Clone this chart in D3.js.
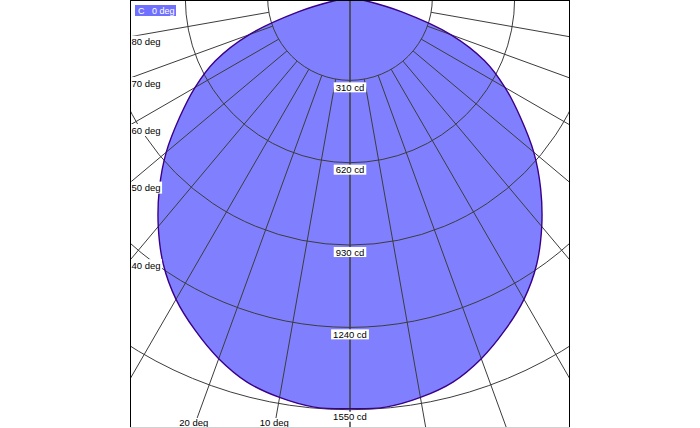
<!DOCTYPE html>
<html>
<head>
<meta charset="utf-8">
<script src="https://cdn.jsdelivr.net/npm/d3@7"></script>
<style>
  html, body { margin: 0; padding: 0; background: #ffffff; }
  svg { display: block; }
  text { font-family: "Liberation Sans", Arial, sans-serif; }
</style>
</head>
<body>
<div id="chart"></div>
<script>
// ---- data ----
const gammaAngles = [0, 5, 10, 15, 20, 25, 30, 35, 40, 45, 50, 55, 60, 65, 70, 75, 80, 85, 90];
const intensityC0 = [1546, 1546, 1527, 1497, 1445, 1380, 1310, 1225, 1123, 1015, 903, 783, 674, 559, 405, 202, 60, 15, 0];
const ringTicks = [310, 620, 930, 1240, 1550];
const spokeAngles = [0, 10, 20, 30, 40, 50, 60, 70, 80, 90];
const labelledAngles = [10, 20, 40, 50, 60, 70, 80];
const legendParts = ["C", "0 deg"];

// ---- layout ----
const W = 700, H = 428;
const frame = { x0: 130, x1: 570, y0: 0, y1: 427 };
const cx = 350, cy = -2;
const rScale = d3.scaleLinear().domain([0, 1550]).range([0, 411.7]);
const rad = d => d * Math.PI / 180;

const svg = d3.select("#chart").append("svg").attr("width", W).attr("height", H);
svg.append("rect").attr("width", W).attr("height", H).attr("fill", "#fff");

svg.append("defs").append("clipPath").attr("id", "frameClip")
  .append("rect").attr("x", frame.x0).attr("y", frame.y0)
  .attr("width", frame.x1 - frame.x0).attr("height", frame.y1 - frame.y0);

const plot = svg.append("g").attr("clip-path", "url(#frameClip)");
const g = plot.append("g").attr("transform", `translate(${cx},${cy})`);

// points: right side (C0) from 90 down to 0, left side (C180) from 0 to 90
const pts = [];
for (let i = gammaAngles.length - 1; i >= 0; i--) pts.push([Math.PI - rad(gammaAngles[i]), rScale(intensityC0[i])]);
for (let i = 1; i < gammaAngles.length; i++) pts.push([Math.PI + rad(gammaAngles[i]), rScale(intensityC0[i])]);

const line = d3.lineRadial().angle(d => d[0]).radius(d => d[1]).curve(d3.curveCatmullRomClosed);

g.append("path").attr("d", line(pts)).attr("fill", "#8080ff").attr("stroke", "none");

// rings
g.selectAll("circle.ring").data(ringTicks).join("circle")
  .attr("class", "ring").attr("r", d => rScale(d))
  .attr("fill", "none").attr("stroke", "#3c3c3c").attr("stroke-width", 1);

// spokes
const spokeEnd = 2500;
spokeAngles.forEach(a => {
  [-1, 1].forEach(side => {
    const r0 = a === 0 ? 0 : rScale(ringTicks[0]);
    const s = Math.sin(rad(a)) * side, c = Math.cos(rad(a));
    g.append("line")
      .attr("x1", r0 * s).attr("y1", r0 * c)
      .attr("x2", spokeEnd * s).attr("y2", spokeEnd * c)
      .attr("stroke", "#3c3c3c").attr("stroke-width", 1);
  });
});

// outline
g.append("path").attr("d", line(pts)).attr("fill", "none")
  .attr("stroke", "#3a0088").attr("stroke-width", 1.4);

// ring labels
ringTicks.forEach(t => {
  const y = rScale(t) + 2.5;
  const grp = g.append("g");
  const txt = grp.append("text").attr("x", 0).attr("y", y + 8)
    .attr("text-anchor", "middle").attr("font-size", 9.5).attr("fill", "#000")
    .text(t + " cd");
  const w = txt.node().getComputedTextLength();
  grp.insert("rect", "text").attr("x", -w / 2 - 2).attr("y", y - 0.5)
    .attr("width", w + 4).attr("height", 10).attr("fill", "#fff");
});

// angle labels where the spoke leaves the frame
const labelLayer = svg.append("g");
labelledAngles.forEach(a => {
  const s = Math.sin(rad(a)), c = Math.cos(rad(a));
  const tLeft = (cx - frame.x0) / s;
  const tBottom = (frame.y1 - cy) / c;
  const grp = labelLayer.append("g");
  let txt;
  if (tLeft < tBottom) {
    const y = cy + tLeft * c;
    txt = grp.append("text").attr("x", frame.x0 + 1.5).attr("y", y + 8.5)
      .attr("text-anchor", "start").attr("font-size", 9.5).attr("fill", "#000").text(a + " deg");
    const w = txt.node().getComputedTextLength();
    grp.insert("rect", "text").attr("x", frame.x0 + 1).attr("y", y - 1)
      .attr("width", w + 2).attr("height", 12).attr("fill", "#fff");
  } else {
    const x = cx - tBottom * s;
    txt = grp.append("text").attr("x", x).attr("y", frame.y1 - 1)
      .attr("text-anchor", "middle").attr("font-size", 9.5).attr("fill", "#000").text(a + " deg");
    const w = txt.node().getComputedTextLength();
    grp.insert("rect", "text").attr("x", x - w / 2 - 1).attr("y", frame.y1 - 9)
      .attr("width", w + 2).attr("height", 9).attr("fill", "#fff");
  }
});

// frame
svg.append("line").attr("x1", frame.x0 + 0.5).attr("x2", frame.x0 + 0.5).attr("y1", 0).attr("y2", frame.y1)
  .attr("stroke", "#000").attr("stroke-width", 1);
svg.append("line").attr("x1", frame.x1 - 0.5).attr("x2", frame.x1 - 0.5).attr("y1", 0).attr("y2", frame.y1)
  .attr("stroke", "#000").attr("stroke-width", 1);
svg.append("line").attr("x1", frame.x0).attr("x2", frame.x1).attr("y1", 0.5).attr("y2", 0.5)
  .attr("stroke", "#000").attr("stroke-width", 1);
svg.append("line").attr("x1", frame.x0).attr("x2", frame.x1).attr("y1", frame.y1 + 0.5).attr("y2", frame.y1 + 0.5)
  .attr("stroke", "#d0d0d0").attr("stroke-width", 1);

// legend
const lg = svg.append("g");
lg.append("rect").attr("x", 135).attr("y", 5).attr("width", 41).attr("height", 11).attr("fill", "#7070ff");
const lt = lg.append("text").attr("y", 14).attr("font-size", 9).attr("fill", "#fff");
lt.append("tspan").attr("x", 138).text(legendParts[0]);
lt.append("tspan").attr("x", 152).text(legendParts[1]);
</script>
</body>
</html>
